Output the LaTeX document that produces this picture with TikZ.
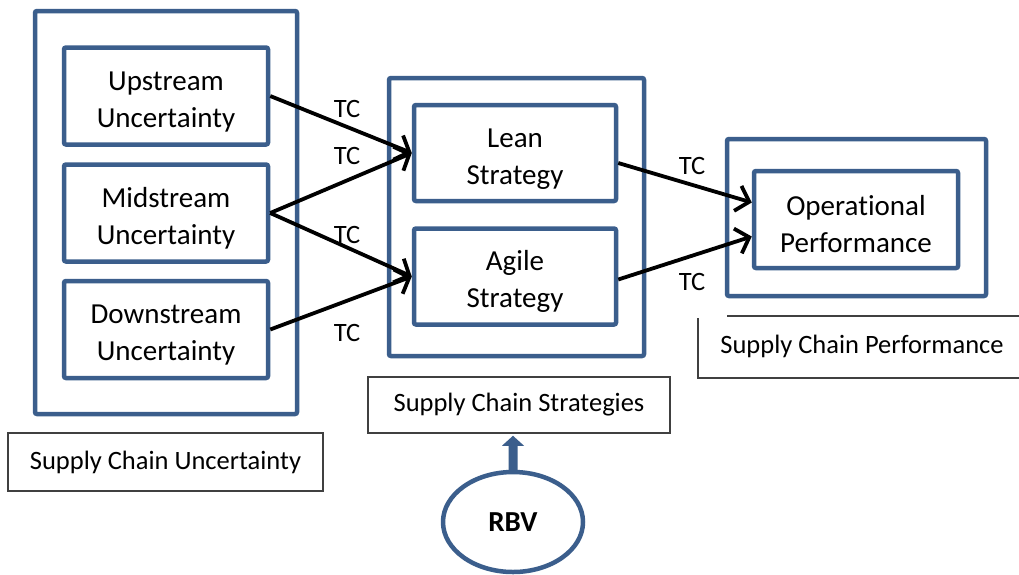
\documentclass[tikz,border=0pt]{standalone}
\usepackage{fontspec}
\setmainfont[Ligatures=NoCommon]{Carlito}
\usetikzlibrary{arrows.meta,shapes.geometric,calc}
\definecolor{boxblue}{HTML}{3B5E8C}
\definecolor{lblgray}{HTML}{404040}
\newcommand{\twolines}[2]{\raisebox{0pt}[30pt][0pt]{#1}\\#2}
\tikzset{
  bluebox/.style={draw=boxblue, line width=4.5pt, rounded corners=2pt, fill=white, inner sep=0pt,
    align=center, font=\fontsize{29}{37}\selectfont},
  outerbox/.style={draw=boxblue, line width=4.5pt, rounded corners=2pt, inner sep=0pt},
  lblbox/.style={draw=lblgray, line width=1.2pt, inner sep=0pt, font=\fontsize{26.5}{30}\selectfont},
  tclabel/.style={font=\fontsize{26.5}{30}\selectfont, inner sep=0pt},
  flow/.style={draw=black, line width=3.8pt, -{Straight Barb[length=12pt,width=26pt,line width=3.8pt]}},
}
\begin{document}
\begin{tikzpicture}[x=1pt,y=-1pt]
\useasboundingbox (0,0) rectangle (1019,574);
\fill[white] (0,0) rectangle (1019,574);
% outer boxes
\node[outerbox, minimum width=262pt, minimum height=403pt] (outL) at (166,212.5) {};
\node[outerbox, minimum width=255pt, minimum height=278pt] (outM) at (516.5,217) {};
\node[outerbox, minimum width=259pt, minimum height=157pt] (outR) at (856.5,217.5) {};
% inner boxes
\node[bluebox, minimum width=204pt, minimum height=97pt] (up) at (166,96) {\twolines{Upstream}{Uncertainty}};
\node[bluebox, minimum width=204pt, minimum height=97pt] (mid) at (166,213) {\twolines{Midstream}{Uncertainty}};
\node[bluebox, minimum width=204pt, minimum height=97pt] (down) at (166,329.5) {\twolines{Downstream}{Uncertainty}};
\node[bluebox, minimum width=202pt, minimum height=96pt] (lean) at (515,153) {\twolines{Lean}{Strategy}};
\node[bluebox, minimum width=202pt, minimum height=96pt] (agile) at (515,276.5) {\twolines{Agile}{Strategy}};
\node[bluebox, minimum width=204pt, minimum height=97pt] (op) at (856,219.5) {\twolines{Operational}{Performance}};
% labels
\node[lblbox, minimum width=315pt, minimum height=58pt] (scu) at (165.5,462) {Supply Chain Uncertainty};
\node[lblbox, minimum width=302pt, minimum height=56pt] (scs) at (519,405) {Supply Chain Strategies};
\node[tclabel] (scp) at (862,346) {Supply Chain Performance};
\draw[lblgray, line width=1.2pt] (727,316) -- (1019,316);
\draw[lblgray, line width=1.2pt] (698,318) -- (698,378) -- (1019,378);
% connectors
\draw[flow] (up.east) -- (lean.west);
\draw[flow] (mid.east) -- (lean.west);
\draw[flow] (mid.east) -- (agile.west);
\draw[flow] (down.east) -- (agile.west);
\draw[flow] ([yshift=-10pt]lean.east) -- ([yshift=17pt]op.west);
\draw[flow] ([yshift=-3pt]agile.east) -- ([yshift=-17pt]op.west);
% TC labels
\node[tclabel] (tc1) at (347,109) {TC};
\node[tclabel] (tc2) at (347,156) {TC};
\node[tclabel] (tc3) at (347,235) {TC};
\node[tclabel] (tc4) at (347,333) {TC};
\node[tclabel] (tc5) at (692,166) {TC};
\node[tclabel] (tc6) at (692,282) {TC};
% RBV
\node[draw=boxblue, line width=4.5pt, ellipse, minimum width=140pt, minimum height=100pt, inner sep=0pt,
  font=\fontsize{29}{30}\selectfont\bfseries] (rbv) at (513,522) {RBV};
\fill[boxblue] ($(rbv.north)+(-4.5,2)$) -- ($(rbv.north)+(-4.5,-24)$) -- ($(rbv.north)+(-11,-24)$)
  -- ($(rbv.north)+(0,-34)$) -- ($(rbv.north)+(11,-24)$) -- ($(rbv.north)+(4.5,-24)$) -- ($(rbv.north)+(4.5,2)$) -- cycle;
\end{tikzpicture}
\end{document}
